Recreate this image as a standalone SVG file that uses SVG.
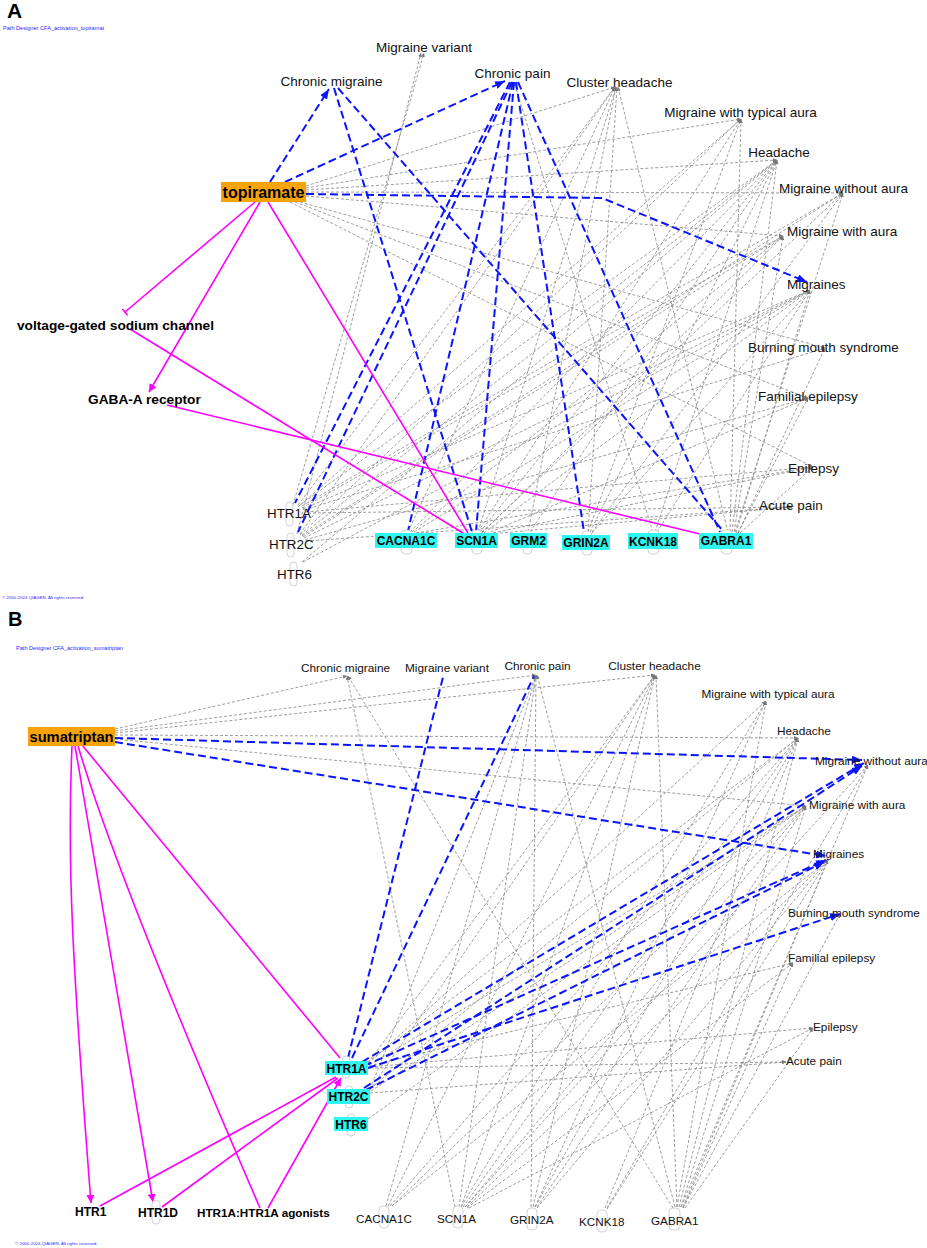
<svg xmlns="http://www.w3.org/2000/svg" width="927" height="1248" viewBox="0 0 927 1248">
<style>
.g{stroke:#858585;stroke-width:0.8;stroke-dasharray:3 2;fill:none}
.b{stroke:#0a14ff;stroke-width:2;stroke-dasharray:8 4;fill:none}
.m{stroke:#ff00ff;stroke-width:1.6;fill:none}
.cap{fill:#fff;stroke:#b5b5b5;stroke-width:0.6}
.d{font-family:"Liberation Sans",Arial,sans-serif;font-size:13.5px;fill:#111}
.d2{font-family:"Liberation Sans",Arial,sans-serif;font-size:11.8px;fill:#111}
.gn{font-family:"Liberation Sans",Arial,sans-serif;font-size:13.4px;fill:#111}
.gn2{font-family:"Liberation Sans",Arial,sans-serif;font-size:11.7px;fill:#111}
.bl{font-family:"Liberation Sans",Arial,sans-serif;font-weight:bold;fill:#000}
.tiny{font-family:"Liberation Sans",Arial,sans-serif;fill:#2a2aff}
.cy{fill:#2ef5f0}
.or{fill:#f8a409}
</style>
<defs>
<marker id="ag" viewBox="0 0 6 6" refX="6" refY="3" markerWidth="4" markerHeight="4" orient="auto" markerUnits="userSpaceOnUse"><path d="M0,0 L6,3 L0,6z" fill="#777"/></marker>
<marker id="ab" viewBox="0 0 10 8" refX="10" refY="4" markerWidth="10" markerHeight="8" orient="auto" markerUnits="userSpaceOnUse"><path d="M0,0 L10,4 L0,8z" fill="#0a14ff"/></marker>
<marker id="am" viewBox="0 0 8 8" refX="8" refY="4" markerWidth="8" markerHeight="8" orient="auto" markerUnits="userSpaceOnUse"><path d="M0,0 L8,4 L0,8z" fill="#ff00ff"/></marker>
</defs>
<rect width="927" height="1248" fill="#fff"/>

<!-- Panel labels -->
<text class="bl" x="7" y="18" font-size="21">A</text>
<text class="tiny" x="3" y="30" font-size="5.6">Path Designer CFA_activation_topiramat</text>
<text class="tiny" x="2" y="599" font-size="4.4">© 2000-2024 QIAGEN. All rights reserved.</text>
<text class="bl" x="8" y="626" font-size="20">B</text>
<text class="tiny" x="16" y="650" font-size="5.6">Path Designer CFA_activation_sumatriptan</text>
<text class="tiny" x="15" y="1245" font-size="4.4">© 2000-2024 QIAGEN. All rights reserved.</text>

<g id="connectors">
<!-- Panel A gray -->
<g class="g" marker-end="url(#ag)">
<line x1="306" y1="186" x2="615" y2="87"/>
<line x1="306" y1="188" x2="741" y2="119"/>
<line x1="306" y1="190" x2="777" y2="160"/>
<line x1="306" y1="192" x2="843" y2="193"/>
<line x1="306" y1="196" x2="783" y2="236"/>
<line x1="300" y1="202" x2="825" y2="348"/>
<line x1="295" y1="202" x2="808" y2="398"/>
<line x1="290" y1="202" x2="813" y2="467"/>
<line x1="293" y1="505" x2="424" y2="53"/>
<line x1="297" y1="534" x2="421" y2="53"/>
<line x1="298" y1="505" x2="615" y2="87"/>
<line x1="300" y1="534" x2="615" y2="87"/>
<line x1="408" y1="532" x2="615" y2="87"/>
<line x1="478" y1="532" x2="616" y2="87"/>
<line x1="528" y1="532" x2="616" y2="87"/>
<line x1="588" y1="532" x2="617" y2="87"/>
<line x1="728" y1="532" x2="618" y2="87"/>
<line x1="298" y1="507" x2="741" y2="119"/>
<line x1="300" y1="535" x2="741" y2="119"/>
<line x1="478" y1="532" x2="741" y2="119"/>
<line x1="588" y1="532" x2="741" y2="119"/>
<line x1="730" y1="532" x2="741" y2="119"/>
<line x1="300" y1="505" x2="777" y2="160"/>
<line x1="302" y1="535" x2="777" y2="160"/>
<line x1="302" y1="562" x2="777" y2="160"/>
<line x1="410" y1="532" x2="777" y2="160"/>
<line x1="480" y1="532" x2="777" y2="160"/>
<line x1="530" y1="532" x2="777" y2="160"/>
<line x1="590" y1="532" x2="777" y2="160"/>
<line x1="655" y1="532" x2="777" y2="160"/>
<line x1="732" y1="532" x2="777" y2="160"/>
<line x1="302" y1="506" x2="843" y2="193"/>
<line x1="302" y1="536" x2="843" y2="193"/>
<line x1="482" y1="532" x2="843" y2="193"/>
<line x1="592" y1="532" x2="843" y2="193"/>
<line x1="735" y1="532" x2="843" y2="193"/>
<line x1="302" y1="508" x2="783" y2="236"/>
<line x1="303" y1="537" x2="783" y2="236"/>
<line x1="412" y1="532" x2="783" y2="236"/>
<line x1="482" y1="533" x2="783" y2="236"/>
<line x1="734" y1="532" x2="783" y2="236"/>
<line x1="303" y1="509" x2="810" y2="290"/>
<line x1="304" y1="538" x2="810" y2="290"/>
<line x1="303" y1="562" x2="810" y2="290"/>
<line x1="414" y1="532" x2="810" y2="290"/>
<line x1="484" y1="533" x2="810" y2="290"/>
<line x1="592" y1="533" x2="810" y2="290"/>
<line x1="657" y1="532" x2="810" y2="290"/>
<line x1="736" y1="533" x2="810" y2="290"/>
<line x1="304" y1="510" x2="825" y2="348"/>
<line x1="738" y1="533" x2="825" y2="348"/>
<line x1="305" y1="540" x2="808" y2="398"/>
<line x1="486" y1="534" x2="808" y2="398"/>
<line x1="738" y1="533" x2="808" y2="398"/>
<line x1="306" y1="512" x2="813" y2="467"/>
<line x1="416" y1="533" x2="813" y2="467"/>
<line x1="488" y1="534" x2="813" y2="467"/>
<line x1="740" y1="533" x2="813" y2="467"/>
<line x1="308" y1="513" x2="792" y2="507"/>
<line x1="306" y1="541" x2="792" y2="507"/>
<line x1="490" y1="534" x2="792" y2="507"/>
<line x1="653" y1="532" x2="514" y2="82"/>
</g>
<!-- Panel A blue -->
<g class="b">
<line x1="270" y1="182" x2="329" y2="89" marker-end="url(#ab)"/>
<line x1="285" y1="182" x2="505" y2="81" marker-end="url(#ab)"/>
<path d="M306,194 L602,198 L807,282" marker-end="url(#ab)"/>
<line x1="334" y1="88" x2="472" y2="532"/>
<line x1="338" y1="88" x2="724" y2="532"/>
<line x1="510" y1="82" x2="295" y2="503"/>
<line x1="512" y1="82" x2="298" y2="532"/>
<line x1="513" y1="82" x2="408" y2="531"/>
<line x1="514" y1="82" x2="476" y2="532"/>
<line x1="516" y1="82" x2="584" y2="532"/>
<line x1="518" y1="82" x2="720" y2="532"/>
</g>
<!-- Panel A magenta -->
<g class="m">
<line x1="255" y1="202" x2="125" y2="312"/>
<line x1="122.4" y1="309" x2="127.6" y2="315.2"/>
<line x1="260" y1="202" x2="149" y2="392" marker-end="url(#am)"/>
<line x1="268" y1="202" x2="468" y2="533"/>
<line x1="130" y1="329" x2="463" y2="533"/>
<line x1="167" y1="405" x2="700" y2="534"/>
</g>

<!-- Panel B gray -->
<g class="g" marker-end="url(#ag)">
<line x1="115" y1="729" x2="347" y2="676"/>
<line x1="115" y1="731" x2="536" y2="675"/>
<line x1="115" y1="733" x2="655" y2="675"/>
<line x1="115" y1="735" x2="798" y2="738"/>
<line x1="115" y1="739" x2="806" y2="806"/>
<line x1="455" y1="1207" x2="347" y2="676"/>
<line x1="673" y1="1208" x2="348" y2="676"/>
<line x1="386" y1="1206" x2="536" y2="675"/>
<line x1="459" y1="1207" x2="536" y2="675"/>
<line x1="531" y1="1207" x2="536" y2="675"/>
<line x1="675" y1="1207" x2="537" y2="675"/>
<line x1="370" y1="1089" x2="536" y2="675"/>
<line x1="368" y1="1063" x2="655" y2="675"/>
<line x1="370" y1="1090" x2="655" y2="675"/>
<line x1="388" y1="1206" x2="655" y2="675"/>
<line x1="461" y1="1207" x2="655" y2="675"/>
<line x1="533" y1="1207" x2="655" y2="675"/>
<line x1="677" y1="1207" x2="656" y2="675"/>
<line x1="368" y1="1064" x2="766" y2="701"/>
<line x1="461" y1="1207" x2="766" y2="701"/>
<line x1="535" y1="1207" x2="766" y2="701"/>
<line x1="677" y1="1207" x2="766" y2="701"/>
<line x1="368" y1="1062" x2="798" y2="738"/>
<line x1="370" y1="1089" x2="798" y2="738"/>
<line x1="390" y1="1206" x2="798" y2="738"/>
<line x1="463" y1="1207" x2="798" y2="738"/>
<line x1="535" y1="1207" x2="798" y2="738"/>
<line x1="605" y1="1208" x2="798" y2="738"/>
<line x1="679" y1="1207" x2="798" y2="738"/>
<line x1="465" y1="1207" x2="868" y2="765"/>
<line x1="607" y1="1208" x2="868" y2="765"/>
<line x1="681" y1="1207" x2="868" y2="765"/>
<line x1="369" y1="1065" x2="806" y2="806"/>
<line x1="371" y1="1091" x2="806" y2="806"/>
<line x1="368" y1="1119" x2="806" y2="806"/>
<line x1="392" y1="1206" x2="806" y2="806"/>
<line x1="465" y1="1207" x2="806" y2="806"/>
<line x1="537" y1="1207" x2="806" y2="806"/>
<line x1="681" y1="1207" x2="806" y2="806"/>
<line x1="392" y1="1206" x2="828" y2="860"/>
<line x1="467" y1="1207" x2="828" y2="860"/>
<line x1="537" y1="1208" x2="828" y2="860"/>
<line x1="607" y1="1209" x2="828" y2="860"/>
<line x1="683" y1="1207" x2="828" y2="860"/>
<line x1="683" y1="1208" x2="840" y2="914"/>
<line x1="369" y1="1066" x2="793" y2="963"/>
<line x1="467" y1="1208" x2="793" y2="963"/>
<line x1="683" y1="1208" x2="793" y2="963"/>
<line x1="370" y1="1067" x2="813" y2="1028"/>
<line x1="469" y1="1208" x2="813" y2="1028"/>
<line x1="685" y1="1208" x2="813" y2="1028"/>
<line x1="370" y1="1068" x2="786" y2="1062"/>
<line x1="370" y1="1093" x2="786" y2="1062"/>
</g>
<!-- Panel B blue -->
<g class="b">
<line x1="115" y1="738" x2="862" y2="760" marker-end="url(#ab)"/>
<line x1="115" y1="742" x2="826" y2="856" marker-end="url(#ab)"/>
<line x1="348" y1="1058" x2="443" y2="677"/>
<line x1="352" y1="1058" x2="534" y2="676"/>
<line x1="362" y1="1062" x2="864" y2="763" marker-end="url(#ab)"/>
<line x1="364" y1="1066" x2="826" y2="860" marker-end="url(#ab)"/>
<line x1="368" y1="1068" x2="840" y2="914" marker-end="url(#ab)"/>
<line x1="364" y1="1088" x2="862" y2="766" marker-end="url(#ab)"/>
<line x1="366" y1="1090" x2="824" y2="862" marker-end="url(#ab)"/>
</g>
<!-- Panel B magenta -->
<g class="m">
<path d="M72,746 C67,860 72,960 91,1203" marker-end="url(#am)"/>
<line x1="75" y1="746" x2="153" y2="1202" marker-end="url(#am)"/>
<path d="M78,746 Q118,880 260,1208"/>
<line x1="82" y1="745" x2="340" y2="1058"/>
<line x1="100" y1="1206" x2="336" y2="1077"/>
<line x1="162" y1="1207" x2="338" y2="1078"/>
<line x1="268" y1="1208" x2="341" y2="1078" marker-end="url(#am)"/>
</g>
</g>

<!-- ===== Panel A nodes ===== -->
<g id="a-topiramate"><rect class="or" x="221" y="182" width="85" height="20"/><text class="bl" x="263.5" y="198" font-size="16" text-anchor="middle">topiramate</text></g>
<g id="a-vgsc"><text class="bl" x="17" y="330" font-size="13.7">voltage-gated sodium channel</text></g>
<g id="a-gabaa"><text class="bl" x="88" y="404" font-size="13.7">GABA-A receptor</text></g>
<g id="a-mv"><text class="d" x="424" y="52" text-anchor="middle">Migraine variant</text></g>
<g id="a-cm"><text class="d" x="331.5" y="86" text-anchor="middle">Chronic migraine</text></g>
<g id="a-cp"><text class="d" x="512.5" y="78" text-anchor="middle">Chronic pain</text></g>
<g id="a-ch"><text class="d" x="619.5" y="87" text-anchor="middle">Cluster headache</text></g>
<g id="a-mta"><text class="d" x="740.5" y="117" text-anchor="middle">Migraine with typical aura</text></g>
<g id="a-ha"><text class="d" x="779" y="157" text-anchor="middle">Headache</text></g>
<g id="a-mwoa"><text class="d" x="779" y="193">Migraine without aura</text></g>
<g id="a-mwa"><text class="d" x="787" y="236">Migraine with aura</text></g>
<g id="a-mig"><text class="d" x="787" y="289">Migraines</text></g>
<g id="a-bms"><text class="d" x="748" y="352">Burning mouth syndrome</text></g>
<g id="a-fe"><text class="d" x="758" y="401">Familial epilepsy</text></g>
<g id="a-ep"><text class="d" x="788" y="473">Epilepsy</text></g>
<g id="a-ap"><text class="d" x="759" y="510">Acute pain</text></g>
<g id="a-htr1a"><rect class="cap" x="286" y="502" width="7" height="24" rx="3.5"/><text class="gn" x="267" y="518">HTR1A</text></g>
<g id="a-htr2c"><rect class="cap" x="287" y="533" width="7" height="24" rx="3.5"/><text class="gn" x="269" y="549">HTR2C</text></g>
<g id="a-htr6"><rect class="cap" x="290" y="562" width="7" height="24" rx="3.5"/><text class="gn" x="277" y="579">HTR6</text></g>
<g id="a-cacna1c"><rect class="cap" x="401" y="530" width="11" height="24" rx="4"/><rect class="cy" x="375" y="533" width="62" height="15"/><text class="bl" x="406" y="545" font-size="12" text-anchor="middle">CACNA1C</text></g>
<g id="a-scn1a"><rect class="cap" x="472" y="530" width="10" height="24" rx="4"/><rect class="cy" x="455" y="533" width="43" height="15"/><text class="bl" x="476.5" y="545" font-size="12" text-anchor="middle">SCN1A</text></g>
<g id="a-grm2"><rect class="cap" x="523" y="530" width="9" height="24" rx="4"/><rect class="cy" x="510" y="533" width="37" height="15"/><text class="bl" x="528.5" y="545" font-size="12" text-anchor="middle">GRM2</text></g>
<g id="a-grin2a"><rect class="cap" x="582" y="531" width="10" height="24" rx="4"/><rect class="cy" x="562" y="535" width="48" height="15"/><text class="bl" x="586" y="547" font-size="12" text-anchor="middle">GRIN2A</text></g>
<g id="a-kcnk18"><rect class="cap" x="648" y="530" width="11" height="24" rx="4"/><rect class="cy" x="628" y="533" width="50" height="16"/><text class="bl" x="653" y="546" font-size="12" text-anchor="middle">KCNK18</text></g>
<g id="a-gabra1"><rect class="cap" x="721" y="530" width="11" height="24" rx="4"/><rect class="cy" x="699" y="533" width="54" height="16"/><text class="bl" x="726" y="545" font-size="12" text-anchor="middle">GABRA1</text></g>

<!-- ===== Panel B nodes ===== -->
<g id="b-sumatriptan"><rect class="or" x="28" y="727" width="87" height="19"/><text class="bl" x="71.5" y="742" font-size="14.7" text-anchor="middle">sumatriptan</text></g>
<g id="b-cm"><text class="d2" x="345.5" y="672" text-anchor="middle">Chronic migraine</text></g>
<g id="b-mv"><text class="d2" x="405" y="672">Migraine variant</text></g>
<g id="b-cp"><text class="d2" x="537.5" y="670" text-anchor="middle">Chronic pain</text></g>
<g id="b-ch"><text class="d2" x="654.5" y="670" text-anchor="middle">Cluster headache</text></g>
<g id="b-mta"><text class="d2" x="768" y="698" text-anchor="middle">Migraine with typical aura</text></g>
<g id="b-ha"><text class="d2" x="777" y="735">Headache</text></g>
<g id="b-mwoa"><text class="d2" x="815" y="765">Migraine without aura</text></g>
<g id="b-mwa"><text class="d2" x="809" y="809">Migraine with aura</text></g>
<g id="b-mig"><text class="d2" x="813" y="858">Migraines</text></g>
<g id="b-bms"><text class="d2" x="788" y="917">Burning mouth syndrome</text></g>
<g id="b-fe"><text class="d2" x="788" y="962">Familial epilepsy</text></g>
<g id="b-ep"><text class="d2" x="813" y="1031">Epilepsy</text></g>
<g id="b-ap"><text class="d2" x="786" y="1065">Acute pain</text></g>
<g id="b-htr1a"><rect class="cap" x="342" y="1056" width="8" height="22" rx="4"/><rect class="cy" x="325" y="1061" width="43" height="14"/><text class="bl" x="346.5" y="1073" font-size="12" text-anchor="middle">HTR1A</text></g>
<g id="b-htr2c"><rect class="cap" x="345" y="1086" width="8" height="22" rx="4"/><rect class="cy" x="327" y="1089" width="43" height="15"/><text class="bl" x="348.5" y="1101" font-size="12" text-anchor="middle">HTR2C</text></g>
<g id="b-htr6"><rect class="cap" x="347" y="1114" width="8" height="22" rx="4"/><rect class="cy" x="334" y="1117" width="34" height="14"/><text class="bl" x="351" y="1129" font-size="12" text-anchor="middle">HTR6</text></g>
<g id="b-htr1"><text class="bl" x="75" y="1216" font-size="12">HTR1</text></g>
<g id="b-htr1d"><rect class="cap" x="152" y="1200" width="8" height="24" rx="4"/><text class="bl" x="138" y="1217" font-size="12">HTR1D</text></g>
<g id="b-agonists"><text class="bl" x="197" y="1217" font-size="11.7">HTR1A:HTR1A agonists</text></g>
<g id="b-cacna1c"><rect class="cap" x="379" y="1206" width="10" height="22" rx="4"/><text class="gn2" x="356" y="1223">CACNA1C</text></g>
<g id="b-scn1a"><rect class="cap" x="453" y="1206" width="10" height="22" rx="4"/><text class="gn2" x="437" y="1223">SCN1A</text></g>
<g id="b-grin2a"><rect class="cap" x="527" y="1208" width="10" height="22" rx="4"/><text class="gn2" x="510" y="1224">GRIN2A</text></g>
<g id="b-kcnk18"><rect class="cap" x="597" y="1210" width="10" height="22" rx="4"/><text class="gn2" x="579" y="1226">KCNK18</text></g>
<g id="b-gabra1"><rect class="cap" x="669" y="1208" width="11" height="22" rx="4"/><text class="gn2" x="651" y="1225">GABRA1</text></g>
</svg>
